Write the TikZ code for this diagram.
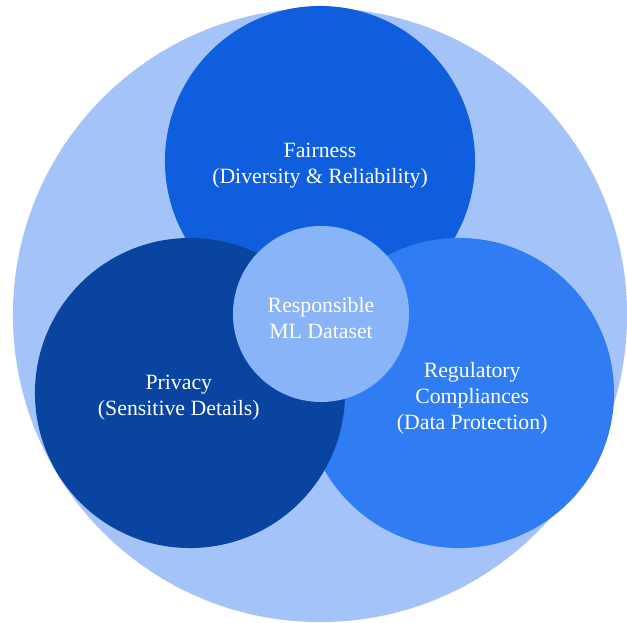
\documentclass[tikz,border=0pt]{standalone}
\usepackage{fontspec}
\setmainfont{Liberation Serif}
\usepackage{tikz}
\usetikzlibrary{positioning}

\definecolor{outerblue}{RGB}{164,195,248}
\definecolor{fairblue}{RGB}{14,94,221}
\definecolor{privblue}{RGB}{9,68,160}
\definecolor{regblue}{RGB}{48,124,242}
\definecolor{coreblue}{RGB}{138,180,248}

\begin{document}
\begin{tikzpicture}[
            x=0.025cm, y=-0.025cm,
            every node/.append style={inner sep=0pt},
            disc/.style={circle, draw=none, minimum size=7.75cm},
            lbl/.style={text=white, align=center, font=\fontsize{15.5}{18.5}\selectfont}
        ]
            \useasboundingbox (0,0) rectangle (627,623);

            \node[disc, fill=outerblue, minimum size=15.35cm] (outer) at (320,315) {};
            \node[disc, fill=fairblue] (fair) at (320,161) {};
            \node[disc, fill=regblue]  (reg)  at (459,393) {};
            \node[disc, fill=privblue] (priv) at (190,393) {};
            \node[disc, fill=coreblue, minimum size=4.4cm] (core) at (321,314) {};

            \node[lbl] (fairtext) at ([yshift=-0.12cm]fair) {Fairness\\(Diversity \& Reliability)};
            \node[lbl] (privtext) at ([xshift=-0.28cm,yshift=-0.12cm]priv) {Privacy\\(Sensitive Details)};
            \node[lbl] (regtext)  at ([xshift=0.33cm,yshift=-0.12cm]reg) {Regulatory\\Compliances\\(Data Protection)};
            \node[lbl] (coretext) at ([yshift=-0.1cm]core) {Responsible\\ML Dataset};
        \end{tikzpicture}
\end{document}
